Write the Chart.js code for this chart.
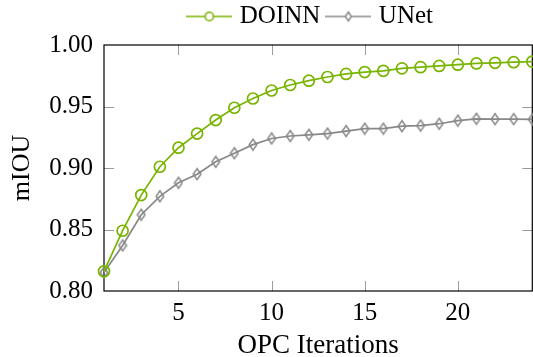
<!DOCTYPE html>
<html><head><meta charset="utf-8">
<script src="https://cdn.jsdelivr.net/npm/chart.js@4"></script>
<style>
html,body{margin:0;padding:0;background:#fff;overflow:hidden;width:533px;height:357px}
#wrap{width:540px;height:357px;position:relative}
canvas{display:block}
</style></head><body>
<div id="wrap"><canvas id="c" width="540" height="357"></canvas></div>
<script>
// ---- data ----
const iterations = [1,2,3,4,5,6,7,8,9,10,11,12,13,14,15,16,17,18,19,20,21,22,23,24];
const doinnValues = [0.816,0.849,0.878,0.901,0.9165,0.928,0.939,0.949,0.9565,0.963,0.9675,0.971,0.974,0.9765,0.978,0.979,0.981,0.982,0.983,0.984,0.985,0.9855,0.986,0.9865];
const unetValues = [0.815,0.837,0.862,0.877,0.888,0.895,0.905,0.912,0.919,0.924,0.926,0.927,0.928,0.930,0.932,0.932,0.934,0.9345,0.936,0.9385,0.940,0.9397,0.9397,0.9395];
const seriesNames = ['DOINN','UNet'];
const xTickValues = [5,10,15,20];
const yTickValues = [0.80,0.85,0.90,0.95,1.00];
const xTitle = 'OPC Iterations';
const yTitle = 'mIOU';

// ---- styles ----
const GREEN = '#78b400';
const GRAY = '#888888';
const FONT = '"Liberation Serif", "Times New Roman", serif';

function diamondImage(color){
  const c = document.createElement('canvas');
  c.width = 10; c.height = 14;
  const g = c.getContext('2d');
  g.strokeStyle = color; g.lineWidth = 1.5;
  g.beginPath(); g.moveTo(5,1.5); g.lineTo(8.8,7); g.lineTo(5,12.5); g.lineTo(1.2,7); g.closePath(); g.stroke();
  return c;
}
function legendImage(color, kind){
  const c = document.createElement('canvas');
  c.width = 46; c.height = 16;
  const g = c.getContext('2d');
  g.strokeStyle = color; g.lineWidth = 1.5;
  g.beginPath(); g.moveTo(0,8); g.lineTo(46,8); g.stroke();
  g.beginPath();
  g.fillStyle = '#fff';
  if (kind === 'circle'){ g.arc(23,8,4.2,0,Math.PI*2); }
  else { g.moveTo(23,3.5); g.lineTo(26,8); g.lineTo(23,12.5); g.lineTo(20,8); g.closePath(); }
  g.fill(); g.stroke();
  return c;
}

const diamond = diamondImage(GRAY);
const legendImgs = [legendImage(GREEN,'circle'), legendImage(GRAY,'diamond')];

const framePlugin = {
  id: 'frame',
  beforeDatasetsDraw(chart){
    const {ctx, chartArea:a, scales:{x,y}} = chart;
    ctx.save();
    ctx.strokeStyle = '#9a9a9a'; ctx.lineWidth = 1;
    xTickValues.forEach(v=>{
      const px = Math.round(x.getPixelForValue(v))+0.5;
      ctx.beginPath(); ctx.moveTo(px,a.bottom); ctx.lineTo(px,a.bottom-10);
      ctx.moveTo(px,a.top); ctx.lineTo(px,a.top+10); ctx.stroke();
    });
    yTickValues.slice(1,-1).forEach(v=>{
      const py = Math.round(y.getPixelForValue(v))+0.5;
      ctx.beginPath(); ctx.moveTo(a.left,py); ctx.lineTo(a.left+10,py);
      ctx.moveTo(a.right,py); ctx.lineTo(a.right-10,py); ctx.stroke();
    });
    ctx.strokeStyle = '#000'; ctx.lineWidth = 1.2;
    ctx.strokeRect(a.left, a.top, a.right-a.left, a.bottom-a.top);
    ctx.restore();
  },
  afterLayout(chart){
    const L = chart.legend;
    if (L){ L.left -= 6; L.right -= 6; L.top -= 6; L.bottom -= 6; }
  }
};

new Chart(document.getElementById('c'), {
  type: 'line',
  data: {
    labels: iterations,
    datasets: [
      { label: seriesNames[0], data: iterations.map((v,i)=>({x:v,y:doinnValues[i]})),
        borderColor: GREEN, borderWidth: 1.7, backgroundColor: 'rgba(0,0,0,0)',
        pointStyle: 'circle', pointRadius: 5.5, pointBorderWidth: 1.7, pointBorderColor: GREEN,
        pointBackgroundColor: 'rgba(0,0,0,0)', tension: 0, clip: false },
      { label: seriesNames[1], data: iterations.map((v,i)=>({x:v,y:unetValues[i]})),
        borderColor: GRAY, borderWidth: 1.7, backgroundColor: 'rgba(0,0,0,0)',
        pointStyle: diamond, pointRadius: 6, tension: 0, clip: false }
    ]
  },
  options: {
    responsive: false, animation: false, devicePixelRatio: 1,
    layout: { padding: { left: 0, right: 5, top: 0, bottom: 0 } },
    plugins: {
      tooltip: { enabled: false },
      legend: {
        display: true, position: 'top', fullSize: false,
        labels: {
          usePointStyle: true, pointStyleWidth: 36, padding: 10,
          font: { family: FONT, size: 25 }, color: '#000',
          generateLabels: (chart) => chart.data.datasets.map((d,i)=>({
            text: d.label, pointStyle: legendImgs[i], fillStyle: 'rgba(0,0,0,0)',
            strokeStyle: 'rgba(0,0,0,0)', lineWidth: 0, fontColor: '#000', datasetIndex: i, hidden: false
          }))
        }
      }
    },
    scales: {
      x: {
        type: 'linear', min: 1, max: 24,
        afterBuildTicks: s => { s.ticks = xTickValues.map(v=>({value:v})); },
        afterFit: s => { s.height = 66; },
        grid: { display: false, drawTicks: false }, border: { display: false },
        ticks: { font: { family: FONT, size: 25 }, color: '#000', padding: 7, maxRotation: 0, callback: v => String(v) },
        title: { display: true, text: xTitle, font: { family: FONT, size: 27, lineHeight: 1 }, color: '#000', padding: { top: 0, bottom: -2 } }
      },
      y: {
        type: 'linear', min: 0.80, max: 1.00,
        afterBuildTicks: s => { s.ticks = yTickValues.map(v=>({value:v})); },
        afterFit: s => { s.width = 104; },
        grid: { display: false, drawTicks: false }, border: { display: false },
        ticks: { font: { family: FONT, size: 25 }, color: '#000', padding: 11, callback: v => Number(v).toFixed(2) },
        title: { display: true, text: yTitle, font: { family: FONT, size: 26, lineHeight: 1 }, color: '#000', padding: { top: 9, bottom: 0 } }
      }
    }
  },
  plugins: [framePlugin]
});
</script>
</body></html>
